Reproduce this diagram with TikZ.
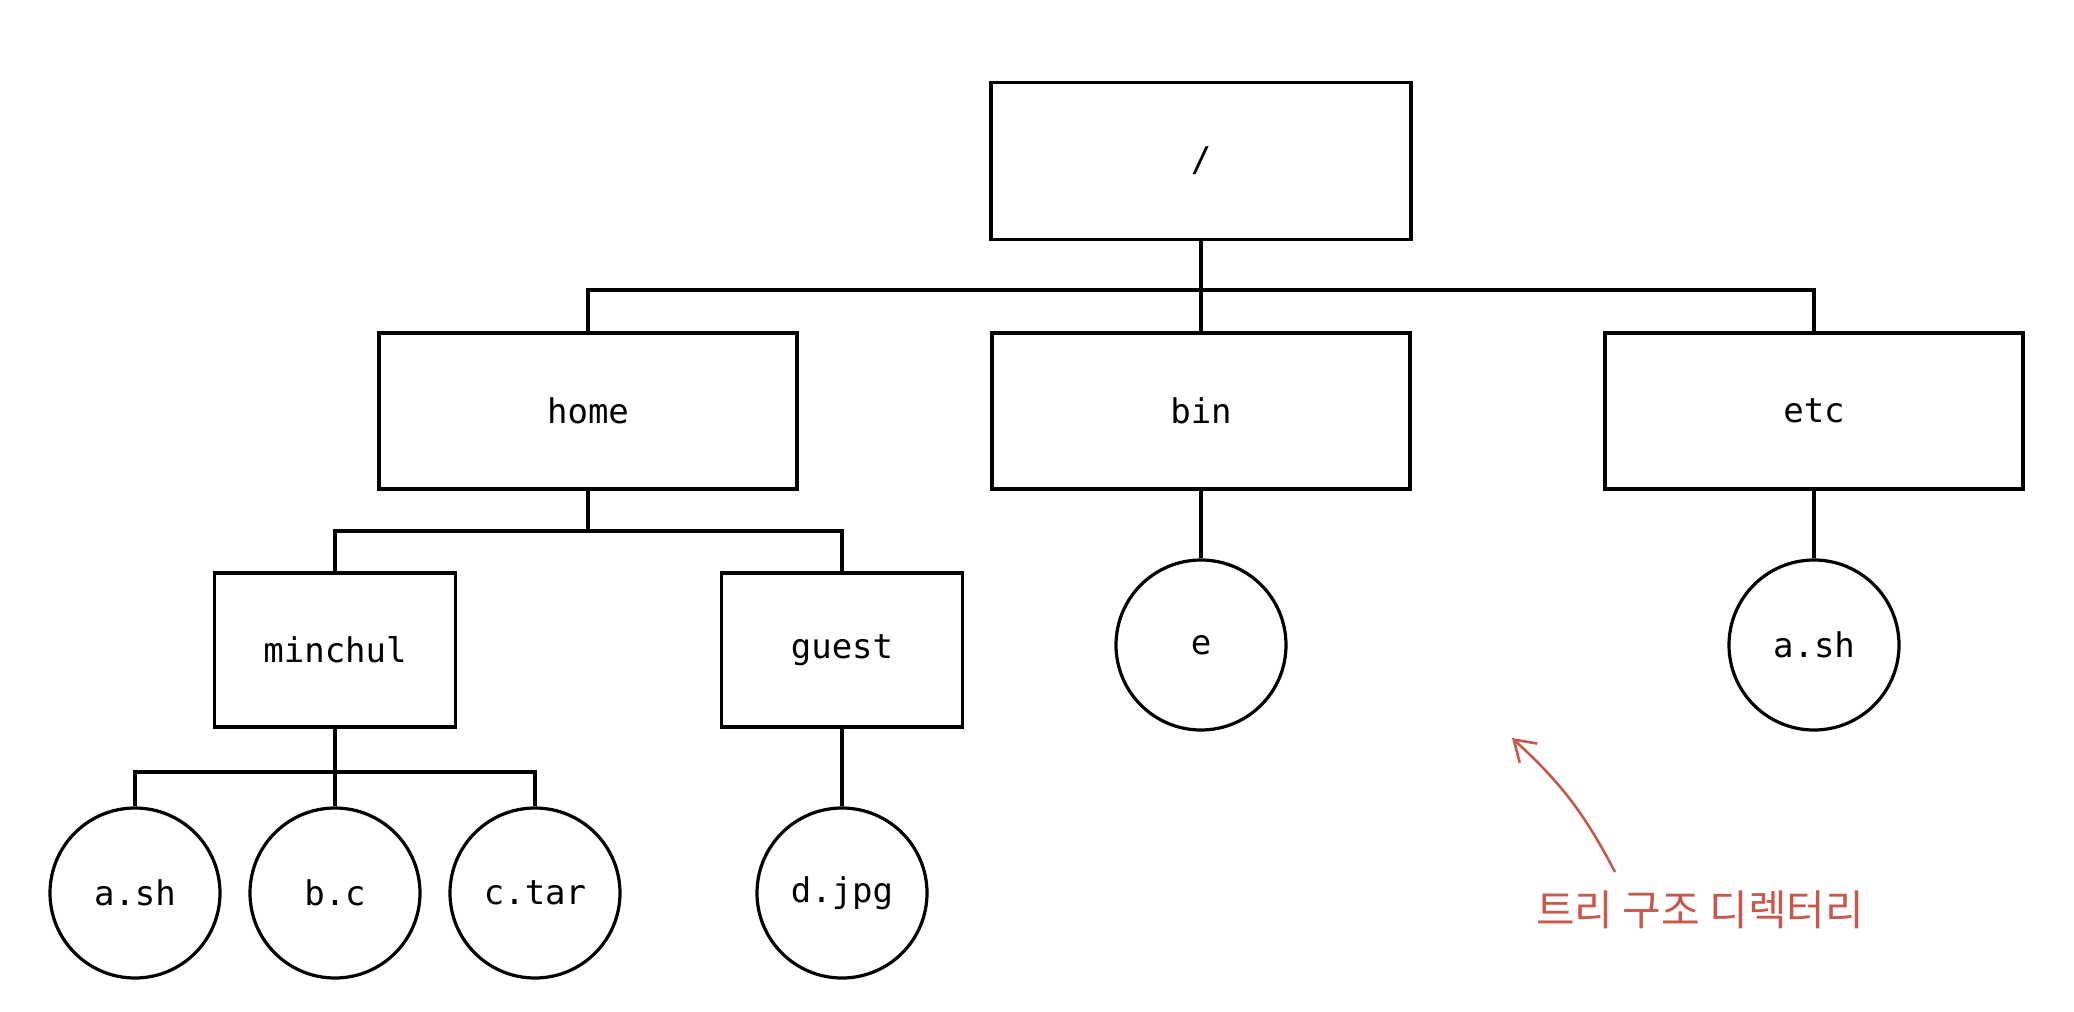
\documentclass[tikz,border=0pt]{standalone}
\usepackage{fontspec}
\setmonofont{DejaVu Sans Mono}
\newfontfamily\krfont{Noto Sans CJK KR}
\usetikzlibrary{arrows.meta}
\definecolor{annot}{RGB}{200,88,76}
\begin{document}
\begin{tikzpicture}[x=0.5pt,y=-0.5pt,
  lbl/.style={font=\ttfamily\fontsize{17}{20}\selectfont},
  dirbox/.style={draw, rectangle, line width=1.8pt, inner sep=0pt, lbl},
  bigbox/.style={dirbox, minimum width=209pt, minimum height=78pt},
  smallbox/.style={dirbox, minimum width=120.5pt, minimum height=77pt},
  filenode/.style={draw, circle, line width=1.6pt, inner sep=0pt, minimum size=85pt, lbl},
  link/.style={line width=1.6pt},
  note/.style={annot, line width=1.3pt}]
\useasboundingbox (0,0) rectangle (2074,1012);
% directories
\node[bigbox, minimum width=210pt, minimum height=78.5pt] (root) at (1201,161) {/};
\node[bigbox] (home) at (588,411) {home};
\node[bigbox] (bin) at (1201,411) {bin};
\node[bigbox] (etc) at (1814,411) {etc};
\node[smallbox] (minchul) at (335,650) {minchul};
\node[smallbox] (guest) at (842,650) {guest};
% files
\node[filenode] (ash1) at (135,893) {a.sh};
\node[filenode] (bc) at (335,893) {b.c};
\node[filenode] (ctar) at (535,893) {c.tar};
\node[filenode] (djpg) at (842,893) {d.jpg};
\node[filenode] (e) at (1201,645) {e};
\node[filenode] (ash2) at (1814,645) {a.sh};
% junction points
\coordinate (j1) at (1201,290);
\coordinate (j2) at (588,531);
\coordinate (j3) at (335,772);
% connectors
\draw[link] (root) -- (bin);
\draw[link] (home.north) |- (j1) -| (etc.north);
\draw[link] (home) -- (j2);
\draw[link] (minchul.north) |- (j2) -| (guest.north);
\draw[link] (minchul) -- (bc);
\draw[link] (ash1.north) |- (j3) -| (ctar.north);
\draw[link] (guest) -- (djpg);
\draw[link] (bin) -- (e);
\draw[link] (etc) -- (ash2);
% annotation
\node[annot, font=\krfont\fontsize{21}{24}\selectfont] (caption) at (1700,910) {트리 구조 디렉터리};
\coordinate (atail) at (1615,872);
\coordinate (ahead) at (1512,738);
\draw[note, -{Straight Barb[length=10pt,width=13pt]}] (atail) to[bend right=10] (ahead);
\end{tikzpicture}
\end{document}
